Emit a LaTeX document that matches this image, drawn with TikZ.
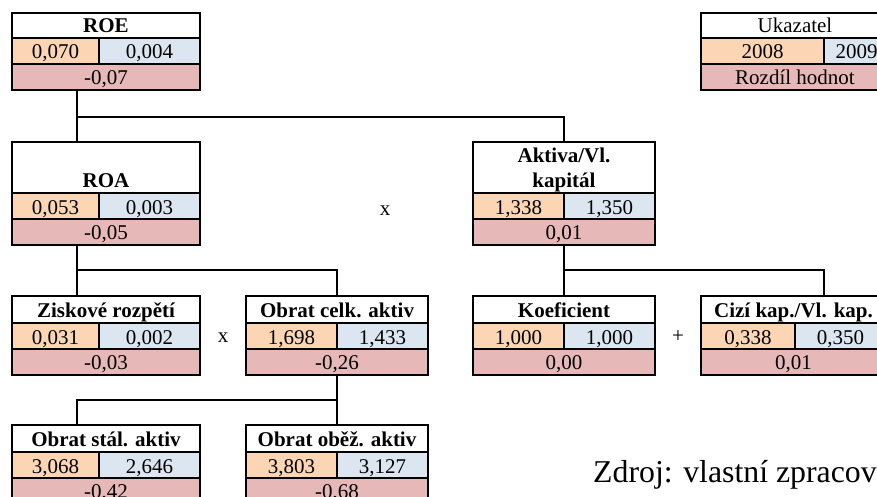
\documentclass[tikz,border=0pt]{standalone}
\usepackage{fontspec}
\setmainfont{Liberation Serif}
\definecolor{c08}{HTML}{FCD5B4}
\definecolor{c09}{HTML}{DCE6F1}
\definecolor{cdf}{HTML}{E6B8B7}
\def\getvals#1/#2\endvals{\def\va{#1}\def\vb{#2}}
\newcommand\twoline[2]{\begin{tabular}[b]{@{}c@{}}#1\\#2\end{tabular}}
\tikzset{
  cell/.style={draw, line width=2pt, anchor=north west, inner sep=0pt, outer sep=0pt},
  lbl/.style={anchor=base, inner sep=0pt, font=\fontsize{21}{25}\selectfont},
  hdr/.style={anchor=base, inner sep=0pt, font=\fontsize{21}{25}\selectfont\bfseries},
  conn/.style={line width=2pt},
}
% #1 name, #2 left, #3 divider, #4 right, #5 top, #6 header bottom, #7 title, #8 v1/v2, #9 difference
\newcommand\ebox[9]{%
  \getvals#8\endvals
  \node[cell, fill=white, minimum width={(#4-#2)*1pt}, minimum height={(#6-#5)*1pt}] (#1-t) at (#2,#5) {};
  \node[cell, fill=c08, minimum width={(#3-#2)*1pt}, minimum height=26pt] (#1-a) at (#2,#6) {};
  \node[cell, fill=c09, minimum width={(#4-#3)*1pt}, minimum height=26pt] (#1-b) at (#3,#6) {};
  \node[cell, fill=cdf, minimum width={(#4-#2)*1pt}, minimum height=26pt] (#1-d) at (#2,#6+26) {};
  \node[hdr] (#1-tt) at ({(#2+#4)/2},#6-5.5) {#7};
  \node[lbl] (#1-at) at ({(#2+#3)/2},#6+21) {\va};
  \node[lbl] (#1-bt) at ({(#3+#4)/2},#6+21) {\vb};
  \node[lbl] (#1-dt) at ({(#2+#4)/2},#6+46.5) {#9};
}
\begin{document}
\begin{tikzpicture}[x=1pt,y=-1pt]
\path[use as bounding box] (0,0) rectangle (877,497);
\clip (0,0) rectangle (877,497);
\fill[white] (0,0) rectangle (877,497);

\ebox{roe}{12}{99}{200}{13}{38}{ROE}{0,070/0,004}{-0,07}
\ebox{uk}{701}{824}{889}{13}{38}{\mdseries Ukazatel}{2008/2009}{Rozdíl hodnot}
\ebox{roa}{12}{99}{200}{142}{193}{ROA}{0,053/0,003}{-0,05}
\ebox{akt}{473}{564}{655}{142}{193}{\twoline{Aktiva/Vl.}{kapitál}}{1,338/1,350}{0,01}
\ebox{zr}{12}{99}{200}{296}{323}{Ziskové rozpětí}{0,031/0,002}{-0,03}
\ebox{oc}{246}{337}{428}{296}{323}{Obrat celk. aktiv}{1,698/1,433}{-0,26}
\ebox{kf}{473}{564}{655}{296}{323}{Koeficient}{1,000/1,000}{0,00}
\ebox{ck}{701}{795}{886}{296}{323}{Cizí kap./Vl. kap.}{0,338/0,350}{0,01}
\ebox{os}{12}{99}{200}{425}{452}{Obrat stál. aktiv}{3,068/2,646}{-0,42}
\ebox{oo}{246}{337}{428}{425}{452}{Obrat oběž. aktiv}{3,803/3,127}{-0,68}

% junctions
\coordinate (j1) at (77,117);
\coordinate (j3) at (77,270);
\coordinate (j4) at (564,270);
\coordinate (j5) at (824,270);
\coordinate (j6) at (337,400);

\draw[conn] (j1 |- roe-d.south) -- (j1) -| (akt-t.north -| akt-a.east);
\draw[conn] (j1) -- (j1 |- roa-t.north);
\draw[conn] (j3 |- roa-d.south) -- (j3) -| (oc-t.north -| oc-a.east);
\draw[conn] (j3) -- (j3 |- zr-t.north);
\draw[conn] (j4 |- akt-d.south) -- (j4) -- (j5) -- (j5 |- ck-t.north);
\draw[conn] (j4) -- (j4 |- kf-t.north);
\draw[conn] (j6 |- oc-d.south) -- (j6) -- (j6 -| j1) -- (j1 |- os-t.north);
\draw[conn] (j6) -- (j6 |- oo-t.north);

\node[lbl] (op1) at (385,215) {x};
\node[lbl] (op2) at (223,342) {x};
\node[lbl] (op3) at (678,342) {+};

\node[anchor=base west, inner sep=0pt, font=\fontsize{31.8}{36}\selectfont] (src) at (593,482) {Zdroj: vlastní zpracování};
\end{tikzpicture}
\end{document}
